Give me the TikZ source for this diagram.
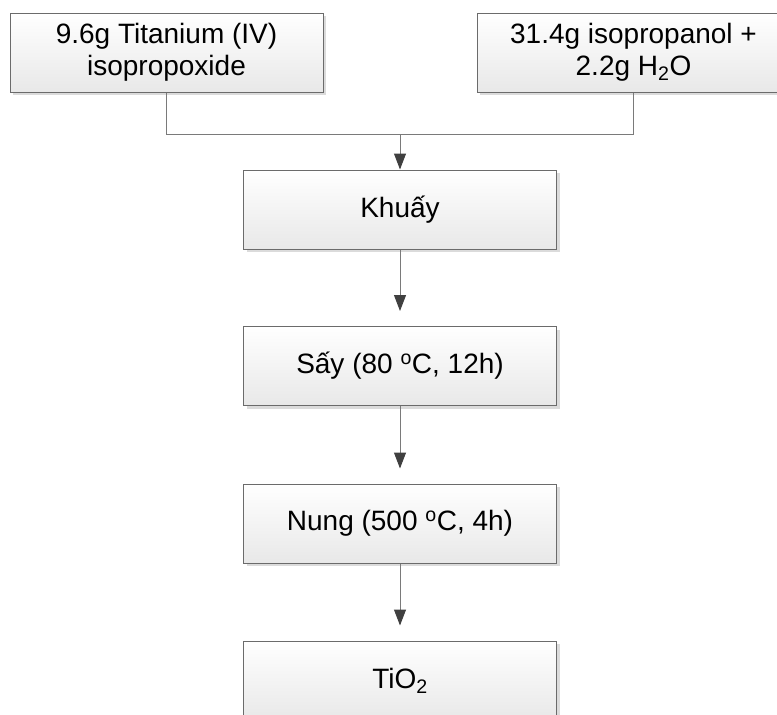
\documentclass[tikz,border=0pt]{standalone}
\usepackage{fontspec}
\setmainfont{Liberation Sans}
\usetikzlibrary{arrows.meta,shadows}
\tikzset{
  stepbox/.style={draw=black!58, line width=1pt, top color=white, bottom color=black!9,
    minimum width=313pt, minimum height=79pt, inner sep=0pt, align=center,
    font=\fontsize{28}{32}\selectfont,
    drop shadow={shadow xshift=3pt, shadow yshift=-3pt, fill=black!14, opacity=1}},
  link/.style={draw=black!52, line width=1pt},
  arr/.style={link, -{Triangle[width=12pt,length=16pt,color=black!75]}}
}
\begin{document}
\begin{tikzpicture}[x=1pt,y=-1pt]
\useasboundingbox (0,0) rectangle (777,715);
\clip (0,0) rectangle (777,715);
\node[stepbox] (b1) at (166.5,52.5) {9.6g Titanium (IV)\\isopropoxide};
\node[stepbox] (b2) at (633.5,52.5) {31.4g isopropanol +\\2.2g H\textsubscript{2}O};
\node[stepbox] (k) at (400,209.5) {Khuấy};
\node[stepbox] (s) at (400,366) {Sấy (80 \textsuperscript{o}C, 12h)};
\node[stepbox] (n) at (400,523.5) {Nung (500 \textsuperscript{o}C, 4h)};
\node[stepbox] (t) at (400,680.5) {TiO\textsubscript{2}};
\coordinate (j) at (400,134);
\draw[link] (b1.south) |- (j);
\draw[link] (b2.south) |- (j);
\draw[arr] (j) -- (k.north);
\draw[arr, shorten >=15pt] (k.south) -- (s.north);
\draw[arr, shorten >=15pt] (s.south) -- (n.north);
\draw[arr, shorten >=15pt] (n.south) -- (t.north);
\end{tikzpicture}
\end{document}
